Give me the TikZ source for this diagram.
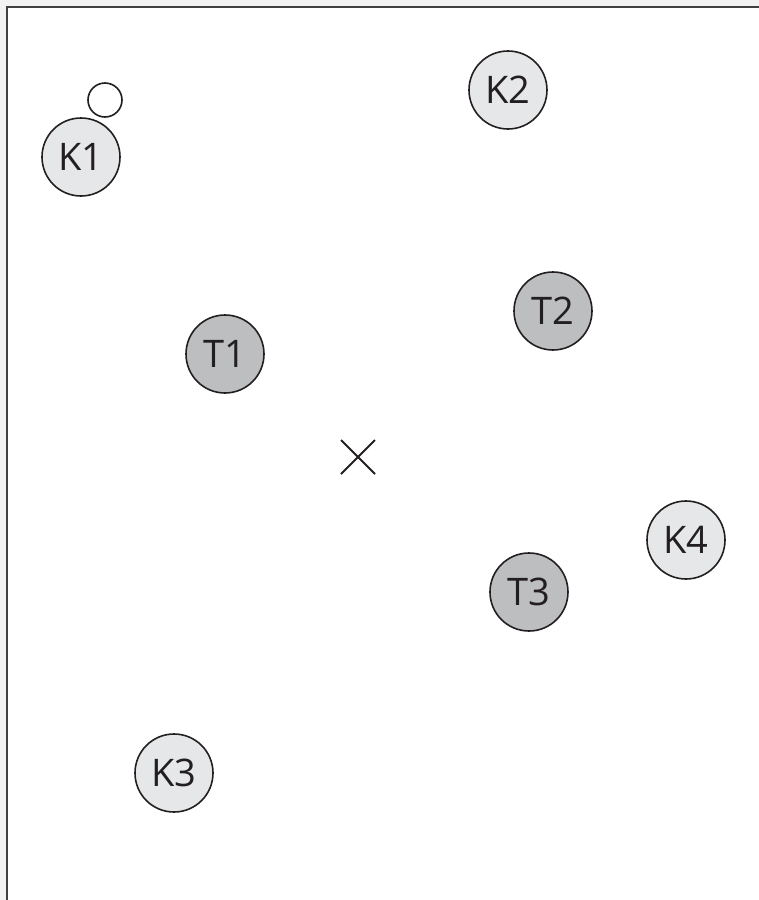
\documentclass[tikz,border=0pt]{standalone}
\usepackage{fontspec}
\setmainfont{Open Sans}
\usetikzlibrary{positioning, calc}

\definecolor{kfill}{HTML}{E6E7E8}
\definecolor{tfill}{HTML}{BCBEC0}
\definecolor{edge}{HTML}{231F20}

\tikzset{
    station/.style={circle, draw=edge, line width=0.8pt, minimum size=39pt,
        inner sep=0pt, font=\fontsize{19}{23}\selectfont, text=edge},
    kstation/.style={station, fill=kfill},
    tstation/.style={station, fill=tfill},
}

\begin{document}
\begin{tikzpicture}[x=0.5pt, y=-0.5pt]

    \useasboundingbox (0,0) rectangle (759,900);

    % Frame
    \fill[black!5] (0,0) rectangle (759,7);
    \fill[black!5] (0,0) rectangle (7,900);
    \draw[line width=1pt, black!75] (7,900) -- (7,7) -- (759,7);

    % K stations
    \node[kstation] (k1) at (81,157) {K1};
    \node[kstation] (k2) at (508,90) {K2};
    \node[kstation] (k3) at (174,773) {K3};
    \node[kstation] (k4) at (686,540) {K4};

    % Small marker by K1
    \node[circle, draw=edge, line width=0.8pt, minimum size=17pt, inner sep=0pt,
        fill=white] (m1) at (105,100) {};

    % T stations
    \node[tstation] (t1) at (225,354) {T1};
    \node[tstation] (t2) at (553,311) {T2};
    \node[tstation] (t3) at (529,592) {T3};

    % Centre cross
    \coordinate (c) at (358,457);
    \draw[line width=0.9pt, edge] ($(c)+(-17,-17)$) -- ($(c)+(17,17)$);
    \draw[line width=0.9pt, edge] ($(c)+(-17,17)$) -- ($(c)+(17,-17)$);

\end{tikzpicture}
\end{document}
